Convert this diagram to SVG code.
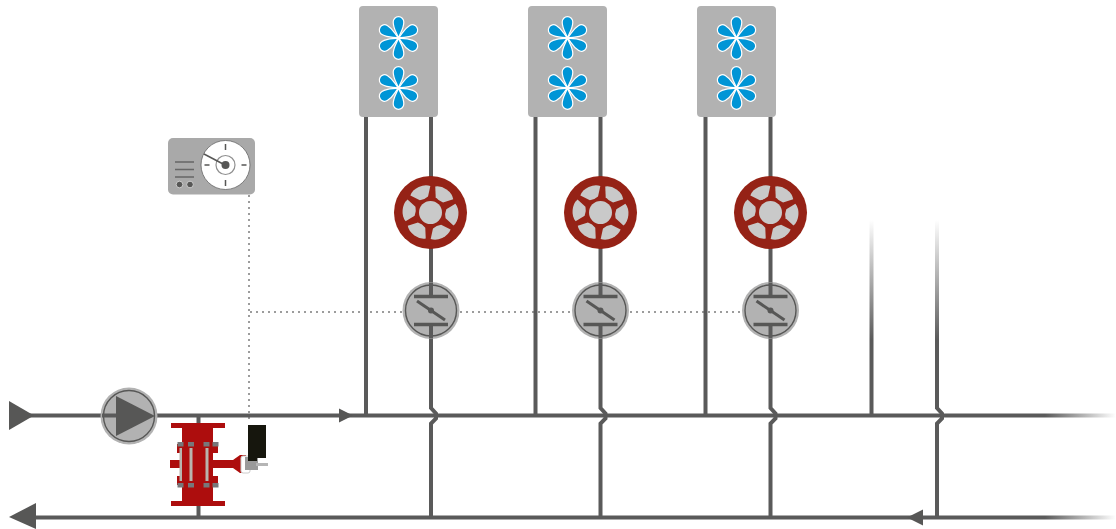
<svg xmlns="http://www.w3.org/2000/svg" width="1116" height="529" viewBox="0 0 1116 529">
<style>
.pipe{fill:none;stroke:#5a5a5a;stroke-width:4}
.dot{fill:none;stroke:#9c9c9c;stroke-width:2;stroke-dasharray:2 4}
.head{fill:#575756}
.ring{fill:#b2b2b2;stroke:#575756;stroke-width:1.4}
.halo{fill:#b2b2b2}
.petal{fill:#0095d6;stroke:#fff;stroke-width:1.200}
.seg{fill:#c9c9c9}
.red{fill:#ad1108}
.bolt{fill:#77777a}
.slot{fill:#b9b4ae}
</style>
<defs>
<filter id="soft" x="-10%" y="-10%" width="120%" height="120%"><feGaussianBlur stdDeviation="0.6"/></filter>
<linearGradient id="fadeH" gradientUnits="userSpaceOnUse" x1="1045" y1="0" x2="1116" y2="0"><stop offset="0" stop-color="#5a5a5a"/><stop offset="1" stop-color="#5a5a5a" stop-opacity="0"/></linearGradient>
<linearGradient id="fadeV" gradientUnits="userSpaceOnUse" x1="0" y1="220" x2="0" y2="340"><stop offset="0" stop-color="#5a5a5a" stop-opacity="0"/><stop offset="1" stop-color="#5a5a5a"/></linearGradient>
<path id="petal" class="petal" d="M0 0C-1.500-5-5.300-9-5.300-16A5.300 5.300 0 0 1 5.300-16C5.300-9 1.500-5 0 0Z"/>
<g id="fan">
<use href="#petal"/><use href="#petal" transform="rotate(60)"/><use href="#petal" transform="rotate(120)"/><use href="#petal" transform="rotate(180)"/><use href="#petal" transform="rotate(240)"/><use href="#petal" transform="rotate(300)"/>
</g>
<g id="unit"><rect x="-39.500" y="0" width="79" height="111" rx="4" fill="#b2b2b2"/><use href="#fan" x="0" y="32"/><use href="#fan" x="0" y="82"/></g>
<path id="seg" class="seg" d="M15.500-4.500L24-11Q28-7 28 0Q28 7 24 11L15.500 4.500Q14 0 15.500-4.500Z"/>
<g id="rotor" filter="url(#soft)"><circle r="36.500" fill="#952013"/><circle r="11.500" class="seg"/>
<use href="#seg" transform="rotate(-115)"/><use href="#seg" transform="rotate(-55)"/><use href="#seg" transform="rotate(5)"/><use href="#seg" transform="rotate(65)"/><use href="#seg" transform="rotate(125)"/><use href="#seg" transform="rotate(185)"/></g>
<g id="valve"><circle r="28.500" class="halo"/><circle r="25.500" class="ring"/><path d="M0-28V-14M0 14V28" class="pipe"/><path d="M-17-14H17M-17 14H17" stroke="#575756" stroke-width="3.500" fill="none"/><path d="M-14-9.500L14 9.500" stroke="#575756" stroke-width="3" fill="none"/><circle r="3" fill="#575756"/></g>
</defs>

<g id="connectors">
<path class="dot" d="M249 195V420M250 312H403M460 312H573M630 312H742"/>
<path class="pipe" d="M22 415.500H1045"/>
<path d="M1045 415.500H1116" fill="none" stroke="url(#fadeH)" stroke-width="4"/>
<path class="pipe" d="M30 517.500H1045"/>
<path d="M1045 517.500H1116" fill="none" stroke="url(#fadeH)" stroke-width="4"/>
<path class="pipe" d="M198.500 415.500V517.500"/>
<path class="pipe" d="M366 117V415.500M431 117V408L436 413.500V418.500L431 423.500V517.500"/>
<path class="pipe" d="M535.500 117V415.500M600.500 117V408L605.500 413.500V418.500L600.500 423.500V517.500"/>
<path class="pipe" d="M705.500 117V415.500M770.500 117V408L775.500 413.500V418.500L770.500 423.500V517.500"/>
<path d="M871.500 220V415.500" fill="none" stroke="url(#fadeV)" stroke-width="4"/>
<path d="M937 220V408L942 413.500V418.500L937 423.500V517.500" fill="none" stroke="url(#fadeV)" stroke-width="4"/>
<path id="arrow-supply-in" class="head" d="M9 401L34 415.500L9 430Z"/>
<path id="arrow-supply" class="head" d="M339 408.500L353 415.500L339 422.500Z"/>
<path id="arrow-return-out" class="head" d="M9 517L36 503V529Z"/>
<path id="arrow-return" class="head" d="M907 517.500L923 509.500V525.500Z"/>
</g>

<g id="unit-1"><use href="#unit" x="398.500" y="6"/></g>
<g id="unit-2"><use href="#unit" x="567.500" y="6"/></g>
<g id="unit-3"><use href="#unit" x="736.500" y="6"/></g>
<g id="rotor-1"><use href="#rotor" x="430.500" y="212.500"/></g>
<g id="rotor-2"><use href="#rotor" x="600.500" y="212.500"/></g>
<g id="rotor-3"><use href="#rotor" x="770.500" y="212.500"/></g>
<g id="valve-1"><use href="#valve" x="431" y="310.500"/></g>
<g id="valve-2"><use href="#valve" x="600.500" y="310.500"/></g>
<g id="valve-3"><use href="#valve" x="770.500" y="310.500"/></g>

<g id="pump"><circle cx="129" cy="416" r="28.500" class="halo"/><circle cx="129" cy="416" r="25.500" class="ring"/><path class="pipe" d="M102 415.500H116"/><path class="head" d="M116 396L155 416L116 436Z"/></g>

<g id="meter">
<rect x="168" y="138" width="87" height="56.500" rx="5" fill="#a9a9a9"/>
<circle cx="225.500" cy="165" r="24.500" fill="#fff" stroke="#666" stroke-width=".8"/>
<circle cx="225.500" cy="165" r="9.500" fill="#fff" stroke="#8f8f8f" stroke-width="1.200"/>
<circle cx="225.500" cy="165" r="4" fill="#575756"/>
<path d="M225.500 144V150M225.500 180V186M204.500 165H209.500M241.500 165H246.500" stroke="#575756" stroke-width="1.500" fill="none"/>
<path d="M204 154L225 165" stroke="#575756" stroke-width="1.500" fill="none"/>
<path d="M175 162H194M175 169.500H194M175 177H194" stroke="#666" stroke-width="1.300" fill="none"/>
<circle cx="179.500" cy="184.500" r="3.300" fill="#575756" stroke="#ddd" stroke-width=".8"/>
<circle cx="190" cy="184.500" r="3.300" fill="#575756" stroke="#ddd" stroke-width=".8"/>
</g>

<g id="control-valve" filter="url(#soft)">
<rect class="red" x="171" y="423" width="54" height="5"/>
<rect class="red" x="171" y="501" width="54" height="5"/>
<rect class="red" x="182" y="428" width="31" height="73"/>
<rect class="red" x="177" y="444" width="41" height="9"/>
<rect class="red" x="177" y="476" width="41" height="9"/>
<rect class="red" x="170" y="460" width="12" height="8"/>
<path class="red" d="M213 460H233L240 455H246V473H240L233 468H213Z"/>
<rect class="slot" x="189.500" y="448" width="3" height="33"/>
<rect class="slot" x="205.500" y="448" width="3" height="33"/>
<rect class="slot" x="179.500" y="448" width="2.500" height="33"/>
<g class="bolt"><rect x="177.500" y="442" width="6" height="4.500"/><rect x="188" y="442" width="6" height="4.500"/><rect x="203.500" y="442" width="6" height="4.500"/><rect x="212.500" y="442" width="6" height="4.500"/><rect x="177.500" y="483" width="6" height="4.500"/><rect x="188" y="483" width="6" height="4.500"/><rect x="203.500" y="483" width="6" height="4.500"/><rect x="212.500" y="483" width="6" height="4.500"/></g>
<rect x="241" y="456" width="9" height="17" rx="2" fill="#fff" stroke="#ccc" stroke-width="1"/>
<rect x="245" y="457" width="13" height="13" fill="#9a9a9a"/>
<rect x="256" y="463" width="12" height="3" fill="#b5b5b5"/>
<path d="M248 425H266V458H257V461H248Z" fill="#15130d"/>
</g>
</svg>
